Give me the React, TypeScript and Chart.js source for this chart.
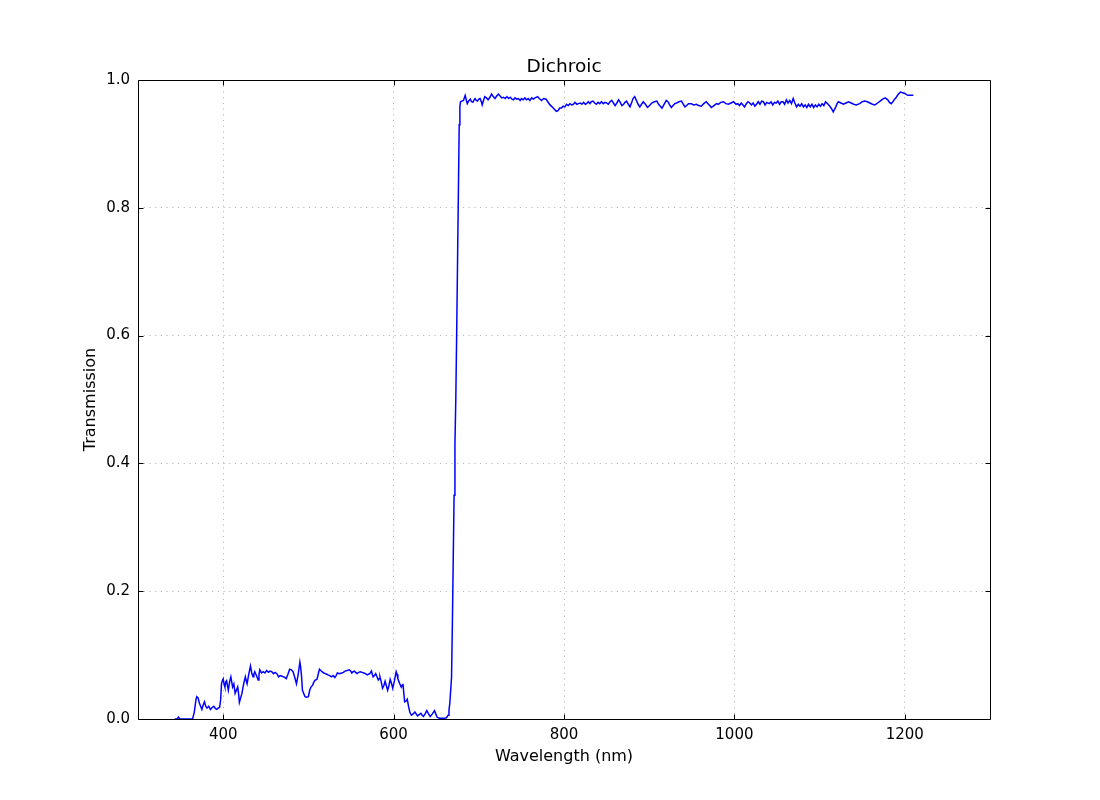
import React, { useEffect, useRef } from "react";
import { Chart, registerables } from "chart.js";

Chart.register(...registerables);

const wavelength: number[] = [
  343, 346, 347.5, 349, 364, 366, 368, 369, 370.5, 372, 373.5, 375, 376.5, 378, 379.5, 381, 383, 385, 387, 389, 391, 392.5, 394, 395.7, 397, 398, 399, 400, 401, 402, 403, 404, 405, 406, 407.5, 409, 410, 411, 412.5, 414, 415.5, 417, 418, 419, 420.5, 422, 424, 426, 427, 428, 430, 432, 433.5, 435, 436, 437, 439, 441, 442, 443, 445, 447, 449, 451, 453, 455, 457, 459, 461, 463, 465, 467, 469, 471, 472.5, 474, 476, 478, 480, 482, 484, 486, 488, 490, 491, 492, 493, 494.5, 496, 498, 500, 501.5, 503, 505, 506.5, 508, 510, 511.5, 513, 514.5, 516, 518, 520, 521.5, 523, 525, 527, 529, 531, 532.5, 534, 536.5, 539, 541, 543, 545.5, 548, 549.5, 551, 552.5, 554, 555.5, 557, 559, 561, 563, 565, 567, 569, 570.5, 572, 574, 575, 576, 577.5, 579, 580.5, 582, 583, 584, 585.5, 587, 588.5, 590, 591.5, 593, 594.5, 596, 597.5, 599, 601, 603, 604, 605, 607, 609, 610, 611, 612, 613, 614.5, 616, 617.5, 619, 620, 621, 623, 625, 626.5, 628, 630, 632, 633.5, 635, 637, 639, 641, 643, 645.5, 648, 649.5, 651, 653, 655, 659, 662, 664, 665, 666, 667, 668, 669, 670, 671, 672, 673, 674, 675, 676, 677, 677.8, 678.5, 680, 682, 684, 685.5, 686.5, 688, 690, 691.5, 693, 694.5, 695.6, 697, 698.5, 700, 701.5, 703, 704, 705.5, 707, 709, 711, 713, 715, 717, 719, 721, 723, 725, 727, 729, 731, 733, 735, 737, 739, 740.6, 742.5, 744.5, 746.5, 748.5, 750, 752, 754, 756, 758, 760, 762, 764, 766, 769, 771, 773.6, 776, 779, 781, 783.6, 786, 789, 791, 793, 795, 797, 799, 801, 803, 805, 807, 809, 811, 813, 815, 817, 819, 821, 823, 825, 826.5, 828.5, 830.5, 832, 834, 836, 838, 840, 842, 844, 846, 848, 850, 852, 854, 856, 858, 860, 862, 864, 866, 868, 870, 871.5, 873.5, 875.5, 877.5, 879.5, 881, 883, 885, 887, 889, 891, 893, 895.5, 898, 900.5, 903, 906, 909, 911, 913, 915, 917.5, 920, 922, 924, 926, 928, 930, 932, 935, 938, 940, 942, 944, 946, 949.5, 952, 955.6, 958, 961, 964, 967, 969, 971, 973, 976, 979, 981, 984, 987, 990, 993, 996, 999, 1002, 1004, 1006, 1008, 1010, 1012, 1014, 1016, 1018, 1020, 1022, 1024, 1026, 1028, 1030, 1032, 1034, 1036, 1038, 1041, 1043, 1045, 1047, 1049, 1051, 1053, 1055, 1057, 1059, 1061, 1063, 1065, 1067, 1069, 1071, 1073, 1075, 1077, 1079, 1081, 1083, 1085, 1087, 1089, 1091, 1093, 1095, 1097, 1099, 1101, 1103, 1105, 1107, 1108.5, 1110, 1112, 1114, 1116, 1117.5, 1119, 1120.5, 1122, 1125, 1128, 1131, 1134, 1137, 1140, 1143, 1147, 1150, 1153, 1156, 1159, 1162, 1165, 1168, 1171, 1174, 1177, 1180, 1182, 1184, 1186, 1188, 1190, 1192.5, 1195, 1197.5, 1200, 1202, 1204, 1207, 1210,
];

const transmission: number[] = [
  0, 0, 0.003, 0, 0, 0.01, 0.03, 0.035, 0.033, 0.025, 0.02, 0.015, 0.022, 0.027, 0.02, 0.017, 0.02, 0.015, 0.018, 0.02, 0.016, 0.015, 0.017, 0.018, 0.03, 0.055, 0.06, 0.063, 0.055, 0.05, 0.058, 0.06, 0.052, 0.045, 0.058, 0.066, 0.058, 0.05, 0.055, 0.04, 0.045, 0.05, 0.04, 0.026, 0.033, 0.04, 0.055, 0.066, 0.06, 0.055, 0.07, 0.083, 0.072, 0.066, 0.07, 0.074, 0.068, 0.061, 0.07, 0.077, 0.072, 0.074, 0.072, 0.076, 0.073, 0.075, 0.074, 0.071, 0.073, 0.071, 0.066, 0.068, 0.067, 0.066, 0.065, 0.063, 0.07, 0.078, 0.077, 0.074, 0.065, 0.055, 0.07, 0.089, 0.08, 0.066, 0.045, 0.04, 0.035, 0.034, 0.035, 0.045, 0.05, 0.053, 0.058, 0.061, 0.062, 0.07, 0.078, 0.076, 0.074, 0.072, 0.071, 0.07, 0.069, 0.068, 0.066, 0.068, 0.065, 0.068, 0.072, 0.071, 0.072, 0.073, 0.075, 0.076, 0.077, 0.075, 0.072, 0.074, 0.075, 0.073, 0.071, 0.073, 0.074, 0.073, 0.072, 0.071, 0.069, 0.07, 0.071, 0.075, 0.07, 0.066, 0.068, 0.071, 0.066, 0.061, 0.063, 0.066, 0.058, 0.048, 0.052, 0.059, 0.052, 0.045, 0.052, 0.062, 0.056, 0.048, 0.06, 0.074, 0.07, 0.063, 0.056, 0.05, 0.053, 0.055, 0.04, 0.027, 0.028, 0.031, 0.02, 0.011, 0.008, 0.006, 0.008, 0.011, 0.008, 0.005, 0.007, 0.009, 0.006, 0.004, 0.008, 0.013, 0.008, 0.004, 0.008, 0.013, 0.008, 0.003, 0.0015, 0.001, 0.001, 0.002, 0.006, 0.014, 0.025, 0.045, 0.065, 0.15, 0.25, 0.35, 0.43, 0.5, 0.6, 0.71, 0.82, 0.93, 0.958, 0.966, 0.967, 0.968, 0.976, 0.968, 0.963, 0.967, 0.97, 0.966, 0.965, 0.969, 0.971, 0.968, 0.967, 0.97, 0.971, 0.966, 0.961, 0.968, 0.974, 0.972, 0.969, 0.973, 0.978, 0.974, 0.971, 0.975, 0.978, 0.975, 0.972, 0.973, 0.971, 0.974, 0.971, 0.973, 0.97, 0.969, 0.972, 0.97, 0.971, 0.968, 0.971, 0.969, 0.972, 0.969, 0.971, 0.968, 0.972, 0.97, 0.972, 0.974, 0.971, 0.968, 0.971, 0.97, 0.966, 0.961, 0.958, 0.954, 0.951, 0.952, 0.956, 0.956, 0.959, 0.958, 0.962, 0.96, 0.963, 0.961, 0.962, 0.965, 0.962, 0.963, 0.964, 0.962, 0.965, 0.962, 0.963, 0.966, 0.963, 0.966, 0.967, 0.964, 0.962, 0.965, 0.963, 0.966, 0.963, 0.965, 0.964, 0.962, 0.966, 0.968, 0.964, 0.96, 0.964, 0.969, 0.965, 0.96, 0.962, 0.965, 0.967, 0.962, 0.958, 0.965, 0.971, 0.974, 0.968, 0.962, 0.958, 0.962, 0.966, 0.962, 0.957, 0.96, 0.964, 0.966, 0.967, 0.962, 0.959, 0.956, 0.962, 0.968, 0.966, 0.961, 0.957, 0.96, 0.963, 0.964, 0.966, 0.967, 0.962, 0.958, 0.96, 0.963, 0.963, 0.961, 0.962, 0.96, 0.959, 0.963, 0.966, 0.963, 0.96, 0.957, 0.96, 0.963, 0.962, 0.965, 0.966, 0.963, 0.962, 0.964, 0.966, 0.962, 0.963, 0.96, 0.964, 0.961, 0.958, 0.963, 0.966, 0.964, 0.961, 0.964, 0.959, 0.962, 0.966, 0.962, 0.967, 0.966, 0.961, 0.965, 0.963, 0.966, 0.961, 0.965, 0.964, 0.967, 0.962, 0.966, 0.966, 0.962, 0.969, 0.964, 0.968, 0.963, 0.971, 0.964, 0.958, 0.962, 0.959, 0.963, 0.958, 0.961, 0.957, 0.962, 0.958, 0.962, 0.957, 0.961, 0.958, 0.962, 0.959, 0.963, 0.96, 0.966, 0.964, 0.962, 0.959, 0.955, 0.95, 0.954, 0.958, 0.963, 0.966, 0.964, 0.962, 0.964, 0.966, 0.964, 0.962, 0.961, 0.963, 0.966, 0.967, 0.966, 0.964, 0.962, 0.961, 0.964, 0.967, 0.97, 0.972, 0.969, 0.965, 0.963, 0.966, 0.97, 0.973, 0.978, 0.981, 0.98, 0.979, 0.977, 0.976, 0.976, 0.976,
];

const xTickValues: number[] = [400, 600, 800, 1000, 1200];
const yTickValues: number[] = [0, 0.2, 0.4, 0.6, 0.8, 1.0];

const chartTitle = "Dichroic";
const xLabel = "Wavelength (nm)";
const yLabel = "Transmission";

const FONT = "'DejaVu Sans', sans-serif";

const framePlugin = {
  id: "frameTicks",
  afterDraw(chart: any) {
    const { ctx, chartArea } = chart;
    const { left, right, top, bottom } = chartArea;
    const xs = chart.scales.x;
    const ys = chart.scales.y;
    ctx.save();
    ctx.strokeStyle = "#000";
    ctx.lineWidth = 1;
    ctx.setLineDash([]);
    ctx.beginPath();
    const L = Math.round(left) + 0.5;
    const R = Math.round(right) + 0.5;
    const T = Math.round(top) + 0.5;
    const B = Math.round(bottom) + 0.5;
    ctx.rect(L, T, R - L, B - T);
    const tl = 5;
    xTickValues.forEach((v) => {
      const p = Math.round(xs.getPixelForValue(v)) + 0.5;
      ctx.moveTo(p, B);
      ctx.lineTo(p, B - tl);
      ctx.moveTo(p, T);
      ctx.lineTo(p, T + tl);
    });
    yTickValues.forEach((v) => {
      const p = Math.round(ys.getPixelForValue(v)) + 0.5;
      ctx.moveTo(L, p);
      ctx.lineTo(L + tl, p);
      ctx.moveTo(R, p);
      ctx.lineTo(R - tl, p);
    });
    ctx.stroke();
    // title centred over the plot area
    ctx.fillStyle = "#000";
    ctx.font = `18.5px ${FONT}`;
    ctx.textAlign = "center";
    ctx.textBaseline = "alphabetic";
    ctx.fillText(chartTitle, (left + right) / 2, 71.5);
    ctx.restore();
  },
};

export default function App() {
  const ref = useRef<HTMLCanvasElement | null>(null);

  useEffect(() => {
    if (!ref.current) return;
    const points = wavelength.map((w, i) => ({ x: w, y: transmission[i] }));
    const chart = new Chart(ref.current, {
      type: "line",
      data: {
        datasets: [
          {
            data: points,
            borderColor: "#0000ff",
            borderWidth: 1.5,
            pointRadius: 0,
            fill: false,
            tension: 0,
          },
        ],
      },
      options: {
        animation: false,
        responsive: false,
        devicePixelRatio: 1,
        layout: { padding: { left: 0, right: 110, top: 80, bottom: 0 } },
        plugins: {
          legend: { display: false },
          tooltip: { enabled: false },
          title: { display: false },
        },
        scales: {
          x: {
            type: "linear",
            min: 300,
            max: 1300,
            afterBuildTicks: (s: any) => {
              s.ticks = xTickValues.map((v) => ({ value: v }));
            },
            afterFit: (s: any) => {
              s.height = 81;
            },
            ticks: {
              color: "#000",
              font: { family: FONT, size: 15 },
              padding: 7,
              maxRotation: 0,
              callback: (v: any) => String(v),
            },
            grid: {
              color: "#b8b8b8",
              lineWidth: 1,
              drawTicks: false,
            },
            border: { display: false, dash: [1.2, 4.5] },
            title: {
              display: true,
              text: xLabel,
              color: "#000",
              font: { family: FONT, size: 16 },
              padding: { top: 0, bottom: 34 },
            },
          },
          y: {
            type: "linear",
            min: 0,
            max: 1,
            afterBuildTicks: (s: any) => {
              s.ticks = yTickValues.map((v) => ({ value: v }));
            },
            afterFit: (s: any) => {
              s.width = 138;
            },
            ticks: {
              color: "#000",
              font: { family: FONT, size: 15 },
              padding: 8,
              callback: (v: any) => Number(v).toFixed(1),
            },
            grid: {
              color: "#b8b8b8",
              lineWidth: 1,
              drawTicks: false,
            },
            border: { display: false, dash: [1.2, 4.5] },
            title: {
              display: true,
              text: yLabel,
              color: "#000",
              font: { family: FONT, size: 16 },
              padding: { top: 81, bottom: 0 },
            },
          },
        },
      },
      plugins: [framePlugin],
    });
    return () => chart.destroy();
  }, []);

  return (
    <div style={{ position: "absolute", left: 0, top: 0, width: 1100, height: 800, background: "#fff" }}>
      <canvas ref={ref} width={1100} height={800} />
    </div>
  );
}
